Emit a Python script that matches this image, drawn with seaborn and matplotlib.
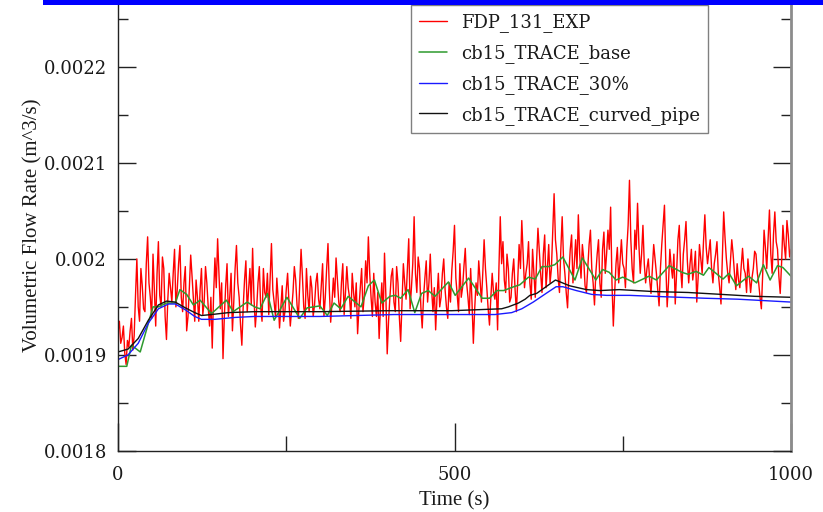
import matplotlib
matplotlib.use("Agg")
import numpy as np
import pandas as pd
import matplotlib.pyplot as plt
import seaborn as sns
from matplotlib.patches import Rectangle
from matplotlib.ticker import MultipleLocator

# Measured flow (FDP_131_EXP), one sample every 2 s, in 1e-6 m^3/s
exp_time = list(range(0, 1001, 2))
exp_flow_e6 = [
    1925, 1935, 1912, 1918, 1930, 1902, 1890, 1915, 1908, 1925, 1938, 1905, 1920, 1962, 2000, 1950, 1935, 1990, 1972, 1948,
    1945, 1995, 2023, 1975, 1960, 1938, 2005, 1968, 1930, 1985, 2018, 1962, 1950, 2002, 1990, 1940, 1916, 1958, 1985, 1970,
    1955, 1985, 2010, 1950, 1968, 1995, 2014, 1960, 1945, 1975, 1992, 1925, 1940, 1970, 2004, 1982, 1958, 1935, 1978, 1960,
    1935, 1968, 1990, 1942, 1955, 1992, 1975, 1950, 1930, 1960, 1907, 1962, 2001, 1970, 2021, 1985, 1948, 1975, 1896, 1940,
    1972, 1995, 1940, 1960, 1985, 1925, 1955, 1990, 2014, 1975, 1960, 1932, 1910, 1950, 1978, 1998, 1945, 1968, 1990, 1952,
    2011, 1960, 1929, 1948, 1975, 1992, 1950, 1935, 1990, 1965, 1960, 1985, 1942, 1978, 2016, 1968, 1955, 1940, 1980, 1958,
    1928, 1950, 1972, 1935, 1945, 1968, 1985, 1955, 1930, 1948, 1965, 1992, 1978, 1952, 1938, 1975, 2010, 1982, 1950, 1938,
    1990, 1962, 1945, 1982, 1970, 1940, 1952, 1975, 1985, 1958, 1948, 1972, 1995, 1940, 1960, 1990, 2016, 1968, 1934, 1955,
    1980, 1960, 2001, 1978, 1955, 1945, 1975, 1995, 1942, 1965, 1992, 1970, 1960, 1938, 1985, 1965, 1950, 1975, 1922, 1948,
    1970, 1990, 1945, 1962, 1998, 1975, 2023, 1985, 1960, 1940, 1985, 1955, 1940, 1965, 1917, 1950, 1975, 1940, 2006, 1962,
    1901, 1935, 1960, 1982, 1990, 1955, 1945, 1992, 1975, 1940, 1914, 1955, 1995, 1975, 1958, 1990, 2021, 1948, 1970, 1995,
    2044, 1985, 1965, 2002, 1990, 1950, 1928, 1960, 1980, 1998, 1955, 1975, 2005, 1968, 1945, 1970, 1926, 1960, 1985, 1950,
    1960, 1985, 2000, 1968, 1950, 1938, 1975, 1955, 1988, 2008, 2035, 1980, 1962, 1945, 1995, 1960, 1970, 1992, 2011, 1975,
    1960, 1942, 1990, 1955, 1912, 1948, 1975, 1962, 1998, 1978, 1955, 1985, 2020, 1990, 1970, 1948, 1931, 1960, 1985, 1965,
    1958, 1975, 1926, 1990, 2044, 1995, 2018, 1978, 1965, 2005, 1990, 1955, 1960, 1985, 2000, 1968, 1945, 1978, 2015, 1990,
    2040, 2005, 1970, 1985, 1995, 2018, 1975, 1958, 2010, 1985, 1960, 1998, 2032, 2008, 1985, 1965, 2005, 2025, 1970, 1990,
    2015, 1975, 1990, 2030, 2068, 2020, 2005, 1980, 1965, 2010, 2044, 2000, 1985, 1965, 1949, 1985, 2010, 2025, 1975, 1995,
    2020, 1990, 2046, 2005, 1980, 2015, 2000, 1972, 1965, 1990, 2015, 2030, 1990, 1975, 1952, 1985, 2005, 2020, 1975, 1960,
    2010, 2028, 1985, 2005, 2030, 2010, 2054, 1975, 1930, 1965, 1995, 2012, 1975, 1998, 2020, 1995, 1990, 1970, 2010, 2035,
    2082, 2020, 1990, 1975, 2030, 2010, 2058, 2015, 1985, 2005, 2035, 1995, 1975, 1990, 2000, 1978, 1964, 1990, 2015, 2000,
    1985, 1968, 1951, 1990, 2015, 2035, 2056, 1995, 1950, 1975, 2010, 1992, 1980, 2005, 1953, 1985, 2020, 2035, 1990, 1970,
    2005, 2020, 2039, 1998, 1975, 1995, 2010, 1978, 1990, 2008, 1955, 1980, 2015, 2000, 1985, 2018, 2046, 2012, 1995, 2008,
    2020, 1990, 1975, 1995, 2005, 2018, 1985, 1970, 1953, 2000, 2049, 2022, 2000, 1985, 1975, 1998, 2020, 2005, 1985, 1968,
    1995, 1978, 1970, 1992, 2011, 1990, 1985, 1965, 2000, 1982, 1965, 1980, 1990, 2008, 2005, 1985, 1975, 1960, 1948, 1985,
    2030, 2012, 1990, 2020, 2051, 2005, 1985, 2025, 2049, 2018, 2010, 1982, 1964, 1995, 2035, 2015, 2000, 2040, 2025, 2002,
    2010,
]

# TRACE base case
base_time = [0, 13, 20, 33, 52, 60, 72, 85, 92, 102,
             112, 122, 139, 161, 171, 192, 203, 211, 222, 232,
             251, 270, 281, 300, 311, 321, 331, 342, 361, 372,
             381, 392, 404, 412, 420, 431, 441, 451, 461, 471,
             491, 501, 521, 541, 552, 563, 573, 588, 597, 610,
             620, 630, 640, 649, 661, 679, 690, 710, 720, 730,
             740, 750, 768, 789, 800, 819, 838, 847, 859, 870,
             878, 899, 908, 919, 937, 949, 959, 969, 980, 988, 1000]
base_flow_e6 = [1888, 1888, 1910, 1903, 1950, 1950, 1954, 1954, 1968, 1963,
                1952, 1957, 1943, 1957, 1945, 1955, 1950, 1948, 1964, 1936,
                1960, 1938, 1949, 1951, 1941, 1954, 1948, 1961, 1950, 1972,
                1978, 1954, 1961, 1962, 1959, 1968, 1944, 1964, 1967, 1961,
                1976, 1962, 1980, 1959, 1959, 1967, 1967, 1971, 1973, 1981,
                1979, 1992, 1992, 1994, 2002, 1978, 2001, 1978, 1989, 1986,
                1978, 1981, 1975, 1982, 1978, 1993, 1986, 1984, 1987, 1983,
                1991, 1979, 1985, 1972, 1982, 1975, 1994, 1978, 1993, 1991, 1982]

# TRACE 30% case
p30_time = [0, 15, 30, 45, 60, 75, 85, 100, 114, 124,
            144, 174, 203, 300, 410, 500, 560, 585, 600, 617,
            636, 651, 661, 681, 704, 726, 760, 795, 872, 921, 1000]
p30_flow_e6 = [1895, 1900, 1912, 1933, 1948, 1953, 1953, 1947, 1940, 1937,
               1937, 1939, 1940, 1940, 1942, 1942, 1942, 1944, 1948, 1955,
               1964, 1971, 1971, 1967, 1963, 1962, 1962, 1961, 1959, 1958, 1955]

# TRACE curved pipe case
curved_time = [0, 15, 30, 45, 60, 72, 85, 100, 114, 124,
               139, 164, 203, 300, 404, 496, 570, 580, 595, 605,
               612, 622, 636, 650, 671, 696, 716, 745, 770, 795,
               847, 872, 897, 921, 946, 1000]
curved_flow_e6 = [1903, 1906, 1917, 1936, 1952, 1956, 1955, 1949, 1944, 1941,
                  1942, 1944, 1945, 1945, 1946, 1946, 1948, 1950, 1954, 1958,
                  1962, 1964, 1971, 1978, 1972, 1968, 1967, 1968, 1967, 1966,
                  1965, 1964, 1963, 1962, 1961, 1960]

series_labels = ["FDP_131_EXP", "cb15_TRACE_base", "cb15_TRACE_30%", "cb15_TRACE_curved_pipe"]
x_ticks = [0, 500, 1000]
x_tick_labels = ["0", "500", "1000"]
y_ticks = [0.0018, 0.0019, 0.0020, 0.0021, 0.0022]
y_tick_labels = ["0.0018", "0.0019", "0.002", "0.0021", "0.0022"]


def frame(t, q_e6):
    return pd.DataFrame({"t": t, "q": np.asarray(q_e6, dtype=float) * 1e-6})


sns.set_theme(style="ticks")
plt.rcParams["font.family"] = ["DejaVu Serif"]

fig = plt.figure(figsize=(8.23, 5.12), dpi=100)
ax = fig.add_axes([0.1434, 0.1197, 0.8177, 0.8803])

sns.lineplot(data=frame(exp_time, exp_flow_e6), x="t", y="q", ax=ax,
             color="#ff0000", lw=1.0, label=series_labels[0])
sns.lineplot(data=frame(base_time, base_flow_e6), x="t", y="q", ax=ax,
             color="#2e9a2e", lw=1.1, label=series_labels[1])
sns.lineplot(data=frame(p30_time, p30_flow_e6), x="t", y="q", ax=ax,
             color="#1a1aff", lw=1.0, label=series_labels[2])
sns.lineplot(data=frame(curved_time, curved_flow_e6), x="t", y="q", ax=ax,
             color="#111111", lw=1.0, label=series_labels[3])

ax.set_xlim(0, 1000)
ax.set_ylim(0.0018, 0.00227)
ax.set_xticks(x_ticks, x_tick_labels)
ax.set_yticks(y_ticks, y_tick_labels)
ax.xaxis.set_minor_locator(MultipleLocator(250))
ax.yaxis.set_minor_locator(MultipleLocator(0.00005))

ax.tick_params(axis="both", which="both", direction="in", colors="#222222",
               labelcolor="#1a1a1a", labelsize=13)
ax.tick_params(axis="y", which="both", left=True, right=True, pad=8)
ax.tick_params(axis="y", which="major", length=13, width=1)
ax.tick_params(axis="y", which="minor", length=7, width=1)
ax.tick_params(axis="x", which="both", top=False, bottom=True, pad=11)
ax.tick_params(axis="x", which="major", length=20, width=1)
ax.tick_params(axis="x", which="minor", length=11, width=1)

for side in ("left", "bottom"):
    ax.spines[side].set_color("#222222")
    ax.spines[side].set_linewidth(1.0)
ax.spines["right"].set_color("#8c8c8c")
ax.spines["right"].set_linewidth(2.0)
ax.spines["top"].set_visible(False)

ax.set_xlabel("Time (s)", family="Liberation Serif", fontsize=15, color="#1a1a1a", labelpad=5)
ax.set_ylabel("Volumetric Flow Rate (m^3/s)", family="Liberation Serif", fontsize=15,
              color="#1a1a1a", labelpad=1)

leg = ax.legend(loc="upper right", bbox_to_anchor=(0.877, 0.989), borderaxespad=0,
                frameon=True, fancybox=False, framealpha=1, edgecolor="#808080",
                fontsize=13, handlelength=1.55, handletextpad=0.8,
                labelspacing=0.66, borderpad=0.45)
leg.get_frame().set_linewidth(1.0)
for txt in leg.get_texts():
    txt.set_color("#1a1a1a")

# header band along the top edge
fig.patches.append(Rectangle((0.052, 0.99), 0.948, 0.01, transform=fig.transFigure,
                             facecolor="#0000ff", edgecolor="none", zorder=10))

fig.savefig("out.png", dpi=100)
